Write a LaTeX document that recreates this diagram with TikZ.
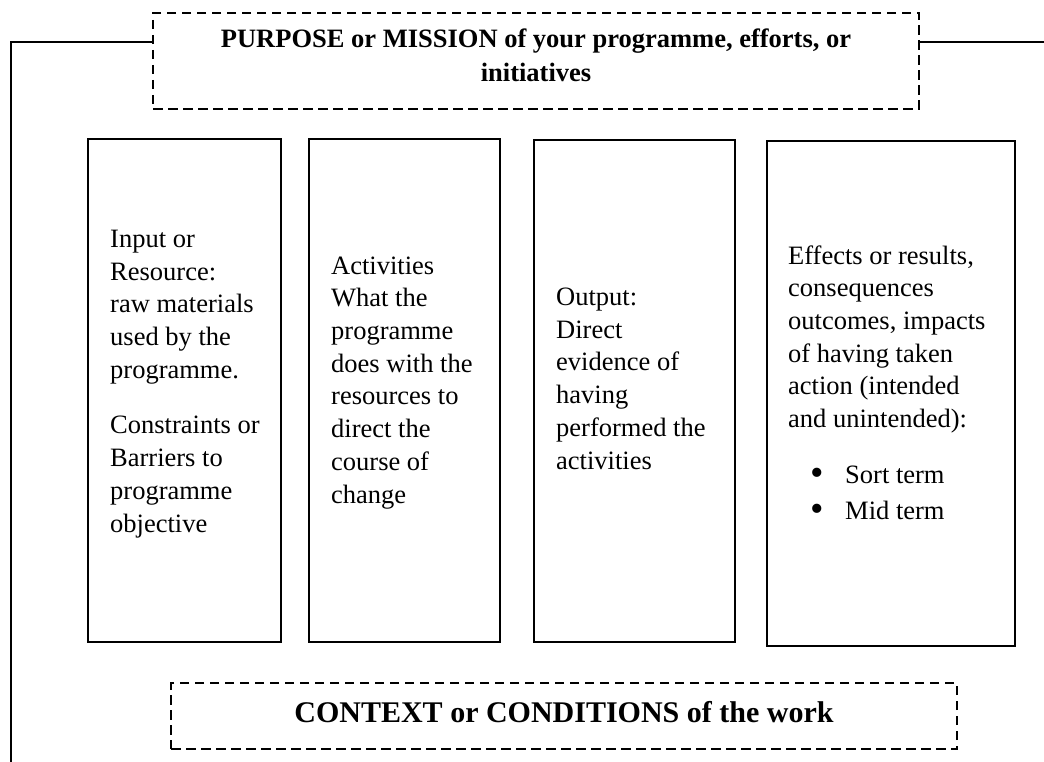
\documentclass[tikz,border=0pt]{standalone}
\usepackage{fontspec}
\setmainfont{Liberation Serif}
\newcommand{\bigbul}{\makebox[35pt][l]{\raisebox{-2.5pt}{\scalebox{1.45}{\textbullet}}}}
\begin{document}
\begin{tikzpicture}[x=1pt,y=-1pt,
  solidbox/.style={draw, line width=2pt, inner sep=0pt},
  dashbox/.style={draw, line width=2pt, dash pattern=on 9.5pt off 5.5pt, inner sep=0pt},
  body/.style={anchor=base west, inner sep=0pt, align=left, font=\fontsize{26.5}{32.7}\selectfont},
  headtext/.style={anchor=base, inner sep=0pt, align=center, font=\fontsize{26.5}{34}\selectfont\bfseries},
  link/.style={line width=2pt}]
\useasboundingbox (0,0) rectangle (1044,762);

% frames
\node[dashbox, minimum width=766pt, minimum height=96pt] (purpose) at (536,61) {};
\node[dashbox, minimum width=786pt, minimum height=66pt] (context) at (564,716) {};
\node[solidbox, minimum width=193pt, minimum height=503pt] (b1) at (184.5,390.5) {};
\node[solidbox, minimum width=191pt, minimum height=503pt] (b2) at (404.5,390.5) {};
\node[solidbox, minimum width=201pt, minimum height=502pt] (b3) at (634.5,391) {};
\node[solidbox, minimum width=248pt, minimum height=505pt] (b4) at (891,393.5) {};

% texts (anchored at the baseline of their last line)
\node[headtext] (ptext) at (536,82) {PURPOSE or MISSION of your programme, efforts, or\\initiatives};
\node[headtext, font=\fontsize{30}{36}\selectfont\bfseries] (ctext) at (564,722) {CONTEXT or CONDITIONS of the work};

\node[body] (t1) at (110,532) {Input or\\Resource:\\raw materials\\used by the\\programme.\\[23pt]Constraints or\\Barriers to\\programme\\objective};
\node[body] (t2) at (331,503) {Activities\\What the\\programme\\does with the\\resources to\\direct the\\course of\\change};
\node[body] (t3) at (556,469) {Output:\\Direct\\evidence of\\having\\performed the\\activities};
\node[body] (t4) at (788,519) {Effects or results,\\consequences\\outcomes, impacts\\of having taken\\action (intended\\and unintended):\\[23pt]\hspace*{22pt}\bigbul Sort term\\[3pt]\hspace*{22pt}\bigbul Mid term};

% connectors
\coordinate (lcorner) at (11,42);
\coordinate (lend) at (11,762);
\coordinate (rend) at (1044,42);
\draw[link] (purpose.west |- lcorner) -| (lend);
\draw[link] (purpose.east |- rend) -- (rend);
\end{tikzpicture}
\end{document}
